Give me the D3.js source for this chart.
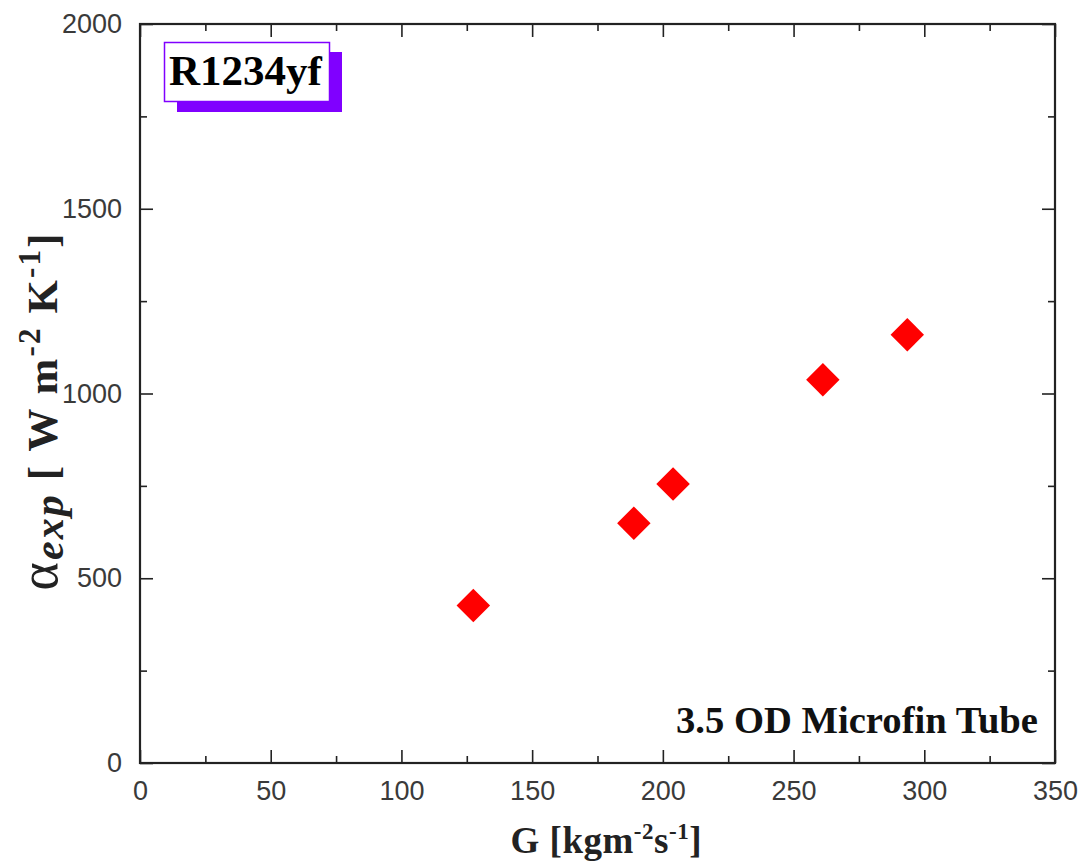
<!DOCTYPE html>
<html>
<head>
<meta charset="utf-8">
<script src="https://cdn.jsdelivr.net/npm/d3@7"></script>
<style>
  html, body { margin: 0; padding: 0; background: #fff; }
  svg { display: block; }
</style>
</head>
<body>
<script>
// Mass flux G [kg m^-2 s^-1] and measured heat transfer coefficient
const massFlux = [127.5, 188.9, 203.9, 261.2, 293.5];
const alphaExp = [426, 649, 755, 1037, 1159];

const xMajorTicks = [0, 50, 100, 150, 200, 250, 300, 350];
const xMinorTicks = [25, 75, 125, 175, 225, 275, 325];
const yMajorTicks = [0, 500, 1000, 1500, 2000];
const yMinorTicks = [250, 750, 1250, 1750];

const refrigerant = "R1234yf";
const tubeLabel = "3.5 OD Microfin Tube";

const W = 1086, H = 863;
const m = { left: 140, right: 1055, top: 24, bottom: 763 };

const svg = d3.select("body").append("svg")
  .attr("width", W).attr("height", H);

const x = d3.scaleLinear().domain([0, 350]).range([m.left, m.right]);
const y = d3.scaleLinear().domain([0, 2000]).range([m.bottom, m.top]);

const axisColor = "#222";
const labelColor = "#3a3a3a";
const majorLen = 13, minorLen = 7;

// Inward ticks on all four sides
function styleAxis(g) {
  g.select(".domain").remove();
  g.selectAll(".tick line").attr("stroke", axisColor).attr("stroke-width", 1.6);
}

const tickFont = "'Liberation Sans', Arial, sans-serif";

// Bottom
svg.append("g").attr("transform", `translate(0,${m.bottom})`)
  .call(d3.axisBottom(x).tickValues(xMajorTicks).tickSize(-majorLen).tickPadding(18).tickFormat(d3.format("d")))
  .call(styleAxis)
  .call(g => g.selectAll(".tick text").attr("fill", labelColor)
    .style("font-family", tickFont).style("font-size", "27px"));
svg.append("g").attr("transform", `translate(0,${m.bottom})`)
  .call(d3.axisBottom(x).tickValues(xMinorTicks).tickSize(-minorLen).tickFormat(""))
  .call(styleAxis);

// Top
svg.append("g").attr("transform", `translate(0,${m.top})`)
  .call(d3.axisTop(x).tickValues(xMajorTicks).tickSize(-majorLen).tickFormat(""))
  .call(styleAxis);
svg.append("g").attr("transform", `translate(0,${m.top})`)
  .call(d3.axisTop(x).tickValues(xMinorTicks).tickSize(-minorLen).tickFormat(""))
  .call(styleAxis);

// Left
svg.append("g").attr("transform", `translate(${m.left},0)`)
  .call(d3.axisLeft(y).tickValues(yMajorTicks).tickSize(-majorLen).tickPadding(18).tickFormat(d3.format("d")))
  .call(styleAxis)
  .call(g => g.selectAll(".tick text").attr("fill", labelColor)
    .style("font-family", tickFont).style("font-size", "27px"));
svg.append("g").attr("transform", `translate(${m.left},0)`)
  .call(d3.axisLeft(y).tickValues(yMinorTicks).tickSize(-minorLen).tickFormat(""))
  .call(styleAxis);

// Right
svg.append("g").attr("transform", `translate(${m.right},0)`)
  .call(d3.axisRight(y).tickValues(yMajorTicks).tickSize(-majorLen).tickFormat(""))
  .call(styleAxis);
svg.append("g").attr("transform", `translate(${m.right},0)`)
  .call(d3.axisRight(y).tickValues(yMinorTicks).tickSize(-minorLen).tickFormat(""))
  .call(styleAxis);

// Plot frame
svg.append("rect")
  .attr("x", m.left).attr("y", m.top)
  .attr("width", m.right - m.left).attr("height", m.bottom - m.top)
  .attr("fill", "none").attr("stroke", axisColor).attr("stroke-width", 2.2);

// Data points: red diamonds
const diamond = d3.symbol().type(d3.symbolSquare).size(560);
svg.append("g").selectAll("path")
  .data(massFlux.map((g, i) => ({ g, a: alphaExp[i] })))
  .join("path")
  .attr("d", diamond)
  .attr("transform", d => `translate(${x(d.g)},${y(d.a)}) rotate(45)`)
  .attr("fill", "#ff0000");

// Refrigerant label box with offset shadow
const serif = "'Liberation Serif', 'Times New Roman', serif";
const purple = "#8000ff";
svg.append("rect").attr("x", 177).attr("y", 52).attr("width", 165).attr("height", 60)
  .attr("fill", purple);
svg.append("rect").attr("x", 164.5).attr("y", 42.5).attr("width", 165).attr("height", 59)
  .attr("fill", "#fff").attr("stroke", purple).attr("stroke-width", 1.5);
svg.append("text").attr("x", 169).attr("y", 85)
  .style("font-family", serif).style("font-weight", "bold").style("font-size", "43px")
  .attr("fill", "#000").text(refrigerant);

// Tube description
svg.append("text").attr("x", 1038).attr("y", 733).attr("text-anchor", "end")
  .attr("textLength", 362).attr("lengthAdjust", "spacingAndGlyphs")
  .style("font-family", serif).style("font-weight", "bold").style("font-size", "38px")
  .attr("fill", "#111").text(tubeLabel);

// X axis title: G [kgm^-2 s^-1]
const xt = svg.append("text").attr("x", 606).attr("y", 853).attr("text-anchor", "middle")
  .attr("textLength", 191).attr("lengthAdjust", "spacing")
  .style("font-family", serif).style("font-weight", "bold").style("font-size", "37px")
  .attr("fill", "#222");
xt.append("tspan").text("G [kgm");
xt.append("tspan").attr("dy", -14).style("font-size", "23px").text("-2");
xt.append("tspan").attr("dy", 14).text("s");
xt.append("tspan").attr("dy", -14).style("font-size", "23px").text("-1");
xt.append("tspan").attr("dy", 14).text("]");

// Y axis title: α_exp [ W m^-2 K^-1]
const yt = svg.append("text")
  .attr("transform", `translate(57,412) rotate(-90)`)
  .attr("text-anchor", "middle")
  .attr("textLength", 357).attr("lengthAdjust", "spacing")
  .style("font-family", serif).style("font-weight", "bold").style("font-size", "43px")
  .attr("fill", "#222");
yt.append("tspan").style("font-weight", "normal").style("font-size", "54px").text("α");
yt.append("tspan").attr("dy", 6).style("font-style", "italic").style("font-size", "42px").text("exp");
yt.append("tspan").attr("dy", -6).text(" [ W m");
yt.append("tspan").attr("dy", -17).style("font-size", "31px").text("-2");
yt.append("tspan").attr("dy", 17).text(" K");
yt.append("tspan").attr("dy", -17).style("font-size", "31px").text("-1");
yt.append("tspan").attr("dy", 17).text("]");
</script>
</body>
</html>
